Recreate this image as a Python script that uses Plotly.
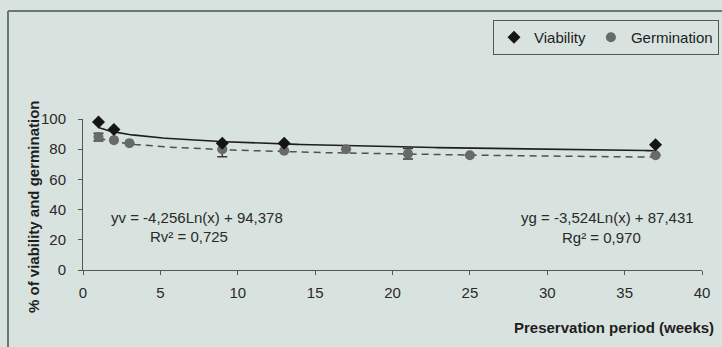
import numpy as np
import plotly.graph_objects as go

# Data
via_weeks = [1, 2, 9, 13, 37]
via_pct = [98, 93, 84, 84, 83]

germ_weeks = [1, 2, 3, 9, 13, 17, 21, 25, 37]
germ_pct = [88, 86, 84, 80, 79, 80, 77, 76, 76]
germ_err = [2.5, 0, 0, 5, 0, 0, 3.5, 0, 0]

# Logarithmic trend line coefficients printed on the chart
via_a, via_b = -4.256, 94.378
germ_a, germ_b = -3.524, 87.431

x_ticks = [0, 5, 10, 15, 20, 25, 30, 35, 40]
y_ticks = [0, 20, 40, 60, 80, 100]

BG = "#d8e2de"
AX = "#4f5a57"
FONT = "Liberation Sans, Arial, sans-serif"
FS = 15

# plot area in pixels
L, R, T, B = 83, 702, 119, 270
PW, PH = R - L, B - T


def px_x(p):
    return (p - L) / PW


def px_y(p):
    return (B - p) / PH


xt = np.linspace(1, 37, 200)

fig = go.Figure()
fig.add_trace(go.Scatter(x=xt, y=via_a * np.log(xt) + via_b, mode="lines",
                         line=dict(color="#1e1e1e", width=1.6), showlegend=False,
                         hoverinfo="skip"))
fig.add_trace(go.Scatter(x=xt, y=germ_a * np.log(xt) + germ_b, mode="lines",
                         line=dict(color="#505050", width=1.5, dash="7px,5px"),
                         showlegend=False, hoverinfo="skip"))
fig.add_trace(go.Scatter(x=germ_weeks, y=germ_pct, mode="markers", name="Germination",
                         marker=dict(symbol="circle", size=10, color="#666a69"),
                         error_y=dict(type="data", array=germ_err, visible=True,
                                      color="#3a3a3a", thickness=1.5, width=5),
                         cliponaxis=False))
fig.add_trace(go.Scatter(x=via_weeks, y=via_pct, mode="markers", name="Viability",
                         marker=dict(symbol="diamond", size=10, color="#151515"),
                         cliponaxis=False))

fig.update_layout(
    width=722, height=347,
    margin=dict(l=L, r=722 - R, t=T, b=347 - B, autoexpand=False),
    paper_bgcolor=BG, plot_bgcolor=BG,
    font=dict(family=FONT, size=FS, color="#2a2a2a"),
    showlegend=True,
    legend=dict(orientation="h", x=px_x(719), y=px_y(20), xanchor="right", yanchor="top",
                bordercolor=AX, borderwidth=1, bgcolor=BG, traceorder="reversed",
                font=dict(size=FS, color="#222"), itemwidth=30),
    xaxis=dict(range=[0, 40], tickvals=x_ticks, showgrid=False, zeroline=False,
               showline=True, linecolor=AX, linewidth=1, ticks="outside", ticklen=4,
               tickcolor=AX, ticklabelstandoff=5, tickfont=dict(size=FS, color="#2a2a2a")),
    yaxis=dict(range=[0, 100], tickvals=y_ticks, showgrid=False, zeroline=False,
               showline=True, linecolor=AX, linewidth=1, ticks="outside", ticklen=4,
               tickcolor=AX, ticklabelstandoff=9, tickfont=dict(size=FS, color="#2a2a2a")),
    shapes=[
        dict(type="line", xref="paper", yref="paper", x0=px_x(8), x1=px_x(730),
             y0=px_y(11), y1=px_y(11), line=dict(color="#6a7875", width=2)),
        dict(type="line", xref="paper", yref="paper", x0=px_x(8), x1=px_x(8),
             y0=px_y(11), y1=px_y(360), line=dict(color="#6a7875", width=2)),
    ],
)


def note(text, cx, cy, **kw):
    fig.add_annotation(text=text, xref="paper", yref="paper", x=px_x(cx), y=px_y(cy),
                       xanchor=kw.pop("xanchor", "center"), yanchor="middle",
                       showarrow=False, font=kw.pop("font", dict(size=FS)), **kw)


note("yv = -4,256Ln(x) + 94,378", 197, 217)
note("Rv² = 0,725", 189, 236)
note("yg = -3,524Ln(x) + 87,431", 607, 217)
note("Rg² = 0,970", 601, 237)
note("<b>Preservation period (weeks)</b>", 716, 327, xanchor="right",
     font=dict(size=FS, color="#1e1e1e"))
note("<b>% of viability and germination</b>", 33, 207, textangle=-90,
     font=dict(size=FS, color="#1e1e1e"))

fig.write_html("out.html", config={"displayModeBar": False},
               post_script="document.body.style.margin='0px';")
